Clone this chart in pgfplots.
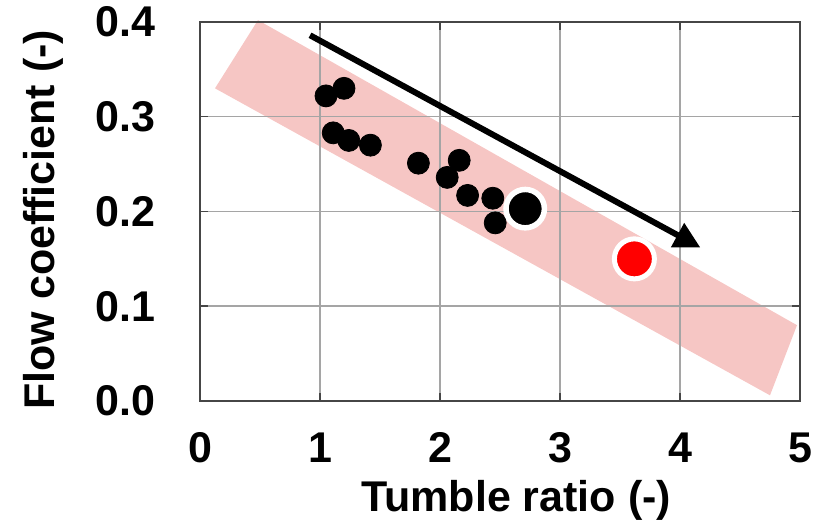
\documentclass[border=0pt]{standalone}
\usepackage{fontspec}
\setmainfont{Liberation Sans}
\usepackage{pgfplots}
\pgfplotsset{compat=1.18}
\usetikzlibrary{arrows.meta}

\definecolor{bandpink}{RGB}{246,198,196}
\definecolor{gridgray}{RGB}{165,165,165}
\definecolor{framegray}{RGB}{70,70,70}

\pgfplotstableread{
x y
1.05 0.322
1.20 0.330
1.11 0.283
1.24 0.275
1.42 0.270
1.82 0.251
2.06 0.236
2.16 0.254
2.23 0.217
2.44 0.214
2.46 0.188
}\measured

\begin{document}
\begin{tikzpicture}
\begin{axis}[
    set layers,
    scale only axis,
    width=300pt, height=189.5pt,
    xmin=0, xmax=5, ymin=0, ymax=0.4,
    xtick={0,1,2,3,4,5},
    ytick={0,0.1,0.2,0.3,0.4},
    yticklabel style={/pgf/number format/fixed, /pgf/number format/fixed zerofill,
        /pgf/number format/precision=1, xshift=-18.8pt},
    xticklabel style={yshift=-12.3pt},
    /pgf/number format/assume math mode=true,
    tick label style={font=\fontsize{21.5}{25}\selectfont\bfseries},
    label style={font=\fontsize{21.5}{25}\selectfont\bfseries},
    xlabel={Tumble ratio (-)},
    ylabel={Flow coefficient (-)},
    xlabel style={at={(axis description cs:0.527,0)}, anchor=base, yshift=-55.5pt},
    ylabel style={at={(axis description cs:-0.2417,0.478)}, anchor=base},
    grid=major,
    grid style={gridgray, line width=0.75pt},
    axis line style={framegray, line width=1pt},
    tick style={framegray, line width=0.75pt},
    tick align=inside,
    major tick length=4pt,
]
% band behind the grid
\addplot[on layer=axis background, fill=bandpink, draw=none]
    coordinates {(0.125,0.330) (0.483,0.402) (4.975,0.080) (4.75,0.006)} -- cycle;
% trend arrow
\addplot[black, line width=3pt, -{Triangle[length=13pt,width=13pt]}]
    coordinates {(0.917,0.386) (4.17,0.162)};
% measured points
\addplot[only marks, mark=*, mark size=5.5pt, mark options={fill=black, draw=none}]
    table {\measured};
% highlighted points
\addplot[only marks, mark=*, mark size=9.6pt, mark options={fill=black, draw=white, line width=2.75pt}]
    coordinates {(2.71,0.203)};
\addplot[only marks, mark=*, mark size=10pt, mark options={fill=red, draw=white, line width=2.5pt}]
    coordinates {(3.62,0.150)};
\end{axis}
\pgfresetboundingbox
\useasboundingbox (-100pt,-61pt) rectangle (306.5pt,200.5pt);
\end{tikzpicture}
\end{document}
